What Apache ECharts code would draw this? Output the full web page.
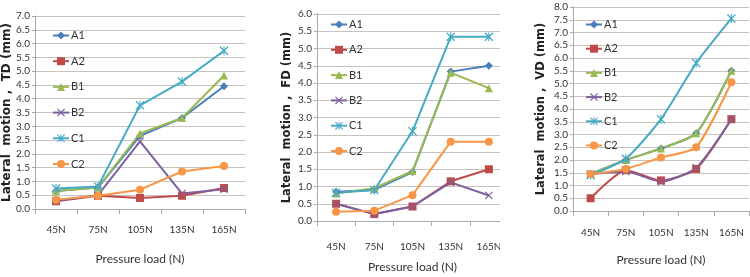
<!DOCTYPE html>
<html>
<head>
<meta charset="utf-8">
<script src="https://cdn.jsdelivr.net/npm/echarts@6/dist/echarts.min.js"></script>
<style>
    html, body { margin: 0; padding: 0; background: #fff; }
    #wrap { position: relative; width: 750px; height: 277px; }
    .panel { position: absolute; top: 0; height: 277px; }
</style>
</head>
<body>
<div id="wrap">
    <div id="td" class="panel" style="left:0;width:250px"></div>
    <div id="fd" class="panel" style="left:250px;width:250px"></div>
    <div id="vd" class="panel" style="left:500px;width:250px"></div>
</div>
<script>
// categories + series names
const loads = ['45N', '75N', '105N', '135N', '165N'];
const seriesNames = ['A1', 'A2', 'B1', 'B2', 'C1', 'C2'];

// TD (left chart)
const tdA1 = [0.65, 0.78, 2.65, 3.3, 4.45];
const tdA2 = [0.28, 0.48, 0.4, 0.48, 0.76];
const tdB1 = [0.65, 0.78, 2.74, 3.3, 4.84];
const tdB2 = [0.3, 0.5, 2.45, 0.56, 0.72];
const tdC1 = [0.74, 0.82, 3.76, 4.62, 5.74];
const tdC2 = [0.34, 0.48, 0.7, 1.36, 1.56];

// FD (middle chart)
const fdA1 = [0.85, 0.9, 1.42, 4.33, 4.5];
const fdA2 = [0.5, 0.2, 0.42, 1.15, 1.5];
const fdB1 = [0.8, 0.95, 1.45, 4.3, 3.85];
const fdB2 = [0.5, 0.2, 0.42, 1.12, 0.74];
const fdC1 = [0.82, 0.9, 2.6, 5.34, 5.34];
const fdC2 = [0.27, 0.3, 0.75, 2.3, 2.3];

// VD (right chart)
const vdA1 = [1.45, 2.0, 2.45, 3.05, 5.5];
const vdA2 = [0.5, 1.6, 1.2, 1.65, 3.6];
const vdB1 = [1.45, 2.0, 2.45, 3.05, 5.5];
const vdB2 = [1.45, 1.55, 1.15, 1.7, 3.6];
const vdC1 = [1.4, 2.05, 3.6, 5.8, 7.55];
const vdC2 = [1.45, 1.65, 2.1, 2.5, 5.05];

const colors = ['#4a7ebb', '#be4b48', '#98b954', '#7d60a0', '#46aac5', '#f79646'];
const crossPath = 'path://M0,1L1,0L5,4L9,0L10,1L6,5L10,9L9,10L5,6L1,10L0,9L4,5Z';
const starPath = 'path://M0,1L1,0L5,4L9,0L10,1L6,5L10,9L9,10L5,6L1,10L0,9L4,5Z M4.4,0L5.6,0L5.6,10L4.4,10Z';
const symbols = ['diamond', 'rect', 'triangle', crossPath, starPath, 'circle'];
const symbolSizes = [8, 8, 8, 8, 9, 8];

const narrow = "Lato, 'DejaVu Sans Condensed', sans-serif";

function buildChart(dom, cfg) {
    let chart = echarts.init(dom, null, { renderer: 'canvas' });
    let grid = Object.assign({ outerBoundsMode: 'none', containLabel: false }, cfg.grid);
    let option = {
        animation: false,
        color: colors,
        grid: grid,
        legend: {
            orient: 'vertical',
            left: cfg.legend.left,
            top: cfg.legend.top,
            padding: 0,
            itemGap: cfg.legend.gap,
            itemWidth: 16,
            itemHeight: 10,
            textStyle: { fontFamily: narrow, fontSize: 11, color: '#333', padding: [0, 0, 0, -3] },
            data: seriesNames
        },
        xAxis: {
            type: 'category',
            data: loads,
            boundaryGap: true,
            name: 'Pressure load (N)',
            nameLocation: 'middle',
            nameGap: cfg.nameGapX,
            nameMoveOverlap: false,
            nameTextStyle: { fontFamily: narrow, fontSize: 12, color: '#333' },
            axisLine: { lineStyle: { color: '#aaa' } },
            axisTick: { show: true, length: 5, lineStyle: { color: '#aaa' } },
            axisLabel: { fontFamily: narrow, fontSize: 10, color: '#333', margin: cfg.labelMargin },
            splitLine: { show: false }
        },
        yAxis: {
            type: 'value',
            min: 0,
            max: cfg.max,
            interval: 0.5,
            name: cfg.title,
            nameLocation: 'middle',
            nameGap: cfg.nameGapY,
            nameMoveOverlap: false,
            nameRotate: 90,
            nameTextStyle: { fontFamily: "'DejaVu Sans', sans-serif", fontSize: cfg.titleSize, fontWeight: 'bold', color: '#222' },
            axisLine: { show: true, lineStyle: { color: '#aaa' } },
            axisTick: { show: true, length: 3, lineStyle: { color: '#aaa' } },
            axisLabel: {
                fontFamily: narrow, fontSize: 10, color: '#333', margin: 5,
                formatter: v => v.toFixed(1)
            },
            splitLine: { show: true, lineStyle: { color: '#c9c1bc', width: 1.2 } }
        },
        series: cfg.data.map((vals, i) => ({
            name: seriesNames[i],
            type: 'line',
            data: vals,
            smooth: cfg.smooth,
            symbol: symbols[i],
            symbolSize: symbolSizes[i],
            lineStyle: { width: 2 },
            itemStyle: { color: colors[i] }
        }))
    };
    chart.setOption(option);
    return chart;
}

buildChart(document.getElementById('td'), {
    grid: { left: 35, top: 16, width: 210, height: 193 },
    legend: { left: 52, top: 30, gap: 14.7 },
    max: 7,
    title: 'Lateral  motion ,  TD (mm)',
    titleSize: 12,
    nameGapX: 44,
    nameGapY: 22,
    labelMargin: 16,
    smooth: false,
    data: [tdA1, tdA2, tdB1, tdB2, tdC1, tdC2]
});

buildChart(document.getElementById('fd'), {
    grid: { left: 67, top: 14, width: 191, height: 207 },
    legend: { left: 80, top: 19, gap: 14.3 },
    max: 6,
    title: 'Lateral  motion ,  FD (mm)',
    titleSize: 11.5,
    nameGapX: 40,
    nameGapY: 24,
    labelMargin: 21,
    smooth: false,
    data: [fdA1, fdA2, fdB1, fdB2, fdC1, fdC2]
});

buildChart(document.getElementById('vd'), {
    grid: { left: 73, top: 7, width: 176, height: 204 },
    legend: { left: 85, top: 19, gap: 13.2 },
    max: 8,
    title: 'Lateral  motion ,  VD (mm)',
    titleSize: 11.5,
    nameGapX: 43,
    nameGapY: 26,
    labelMargin: 17,
    smooth: 0.2,
    data: [vdA1, vdA2, vdB1, vdB2, vdC1, vdC2]
});
</script>
</body>
</html>
